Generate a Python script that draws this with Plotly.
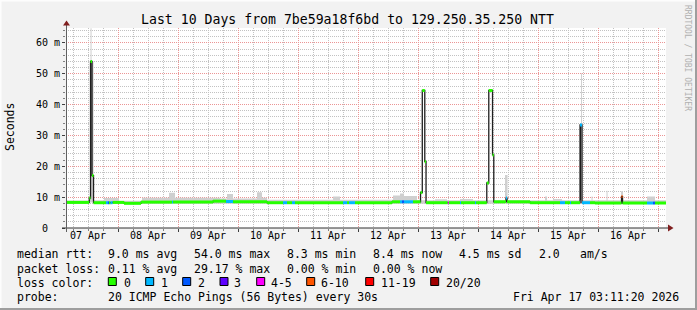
import plotly.graph_objects as go
import pandas as pd

# ---------------- data ----------------
title_text = "Last 10 Days from 7be59a18f6bd to 129.250.35.250 NTT"
t_start = "2026-04-07 03:11:20"
t_end = "2026-04-17 03:11:20"

day_lines = ["2026-04-08", "2026-04-09", "2026-04-10", "2026-04-11", "2026-04-12",
             "2026-04-13", "2026-04-14", "2026-04-15", "2026-04-16", "2026-04-17"]
day_label_pos = ["2026-04-07 12:00", "2026-04-08 12:00", "2026-04-09 12:00", "2026-04-10 12:00",
                 "2026-04-11 12:00", "2026-04-12 12:00", "2026-04-13 12:00", "2026-04-14 12:00",
                 "2026-04-15 12:00", "2026-04-16 12:00"]
day_labels = ["07 Apr", "08 Apr", "09 Apr", "10 Apr", "11 Apr",
              "12 Apr", "13 Apr", "14 Apr", "15 Apr", "16 Apr"]

y_tickvals = [0, 10, 20, 30, 40, 50, 60]
y_ticktext = ["0\u00a0\u00a0", "10 m", "20 m", "30 m", "40 m", "50 m", "60 m"]
y_max = 64.86

# median rtt (ms) step series, loss = lost pings of 20 for each step
med_time = ["2026-04-07 03:11:20", "2026-04-07 12:30", "2026-04-07 13:00", "2026-04-07 13:36",
            "2026-04-07 14:12", "2026-04-07 19:12", "2026-04-07 20:00", "2026-04-07 20:24",
            "2026-04-07 21:00", "2026-04-07 21:48", "2026-04-08 02:24", "2026-04-08 09:12",
            "2026-04-08 21:36", "2026-04-08 22:00", "2026-04-09 14:00", "2026-04-09 19:12",
            "2026-04-09 22:00", "2026-04-10 11:36", "2026-04-10 18:00", "2026-04-10 19:36",
            "2026-04-10 21:36", "2026-04-10 22:48", "2026-04-11 18:00", "2026-04-11 19:36",
            "2026-04-11 20:24", "2026-04-11 22:48", "2026-04-12 13:36", "2026-04-12 16:48",
            "2026-04-12 17:36", "2026-04-12 18:24", "2026-04-12 22:00", "2026-04-13 01:00",
            "2026-04-13 01:42", "2026-04-13 02:42", "2026-04-13 03:12", "2026-04-13 11:54",
            "2026-04-13 12:18", "2026-04-13 16:48", "2026-04-13 17:12", "2026-04-13 22:48",
            "2026-04-13 23:12", "2026-04-14 03:30", "2026-04-14 04:18", "2026-04-14 05:48",
            "2026-04-14 06:18", "2026-04-14 11:12", "2026-04-14 11:36", "2026-04-14 20:48",
            "2026-04-15 08:48", "2026-04-15 10:48", "2026-04-15 12:48", "2026-04-15 13:12",
            "2026-04-15 16:48", "2026-04-15 17:36", "2026-04-15 20:48", "2026-04-15 22:48",
            "2026-04-16 09:24", "2026-04-16 09:48", "2026-04-16 19:36", "2026-04-16 22:00",
            "2026-04-16 22:48", "2026-04-17 03:11:20"]
med_val = [8.3, 9.7, 54.0, 17.0,
           8.2, 8.2, 8.2, 8.2,
           8.2, 8.3, 8.0, 8.4,
           8.4, 8.4, 8.7, 8.6,
           8.5, 8.2, 8.2, 8.2,
           8.2, 8.2, 8.2, 8.2,
           8.2, 8.2, 8.5, 8.5,
           8.5, 8.5, 8.5, 11.5,
           44.6, 21.5, 8.2, 8.2,
           8.2, 8.2, 8.2, 8.2,
           8.2, 14.6, 44.6, 23.7,
           8.5, 9.7, 8.5, 8.2,
           8.2, 8.2, 8.2, 8.2,
           33.4, 8.2, 8.2, 8.1,
           10.2, 8.1, 8.1, 8.1,
           8.1, 8.1]
med_loss = [0, 0, 0, 0,
            0, 1, 2, 0,
            1, 0, 0, 0,
            1, 0, 0, 1,
            0, 0, 1, 0,
            1, 0, 1, 0,
            1, 0, 0, 1,
            2, 1, 0, 0,
            0, 0, 0, 4,
            0, 1, 0, 1,
            0, 0, 0, 0,
            0, 1, 0, 0,
            1, 0, 1, 0,
            1, 1, 0, 0,
            6, 0, 1, 2,
            0, 0]

# light smoke (spread of the 20 pings), step series
smoke_time = ["2026-04-07 03:11:20", "2026-04-07 12:00", "2026-04-07 12:30", "2026-04-07 13:00",
              "2026-04-07 13:24", "2026-04-07 14:12", "2026-04-07 18:24", "2026-04-08 00:24",
              "2026-04-08 09:36", "2026-04-08 20:24", "2026-04-08 22:48", "2026-04-09 16:48",
              "2026-04-09 19:36", "2026-04-09 22:00", "2026-04-10 07:36", "2026-04-10 09:36",
              "2026-04-10 11:36", "2026-04-11 14:00", "2026-04-11 16:48", "2026-04-12 14:00",
              "2026-04-12 16:48", "2026-04-12 18:24", "2026-04-12 23:36", "2026-04-13 06:48",
              "2026-04-13 11:36", "2026-04-13 16:48", "2026-04-13 22:00", "2026-04-14 10:48",
              "2026-04-14 11:48", "2026-04-15 02:48", "2026-04-15 03:36", "2026-04-15 06:00",
              "2026-04-15 09:36", "2026-04-15 17:12", "2026-04-15 17:36", "2026-04-15 21:24",
              "2026-04-15 21:48", "2026-04-16 03:24", "2026-04-16 03:48", "2026-04-16 09:12",
              "2026-04-16 10:00", "2026-04-16 19:36", "2026-04-16 22:48", "2026-04-17 03:11:20"]
smoke_lo = [7.9, 7.9, 8.3, 8.3,
            8.3, 7.9, 7.9, 7.9,
            7.9, 7.9, 7.9, 7.9,
            7.9, 7.9, 7.9, 7.9,
            7.9, 7.9, 7.9, 7.9,
            7.9, 7.9, 7.9, 7.9,
            7.9, 7.9, 7.9, 8.3,
            7.9, 7.9, 7.9, 7.9,
            7.9, 7.9, 7.9, 7.9,
            7.9, 7.9, 7.9, 7.9,
            7.9, 7.9, 7.9, 7.9]
smoke_hi = [8.9, 9.0, 10.0, 64.8,
            54.0, 9.0, 9.7, 8.8,
            9.8, 11.4, 9.8, 9.6,
            11.0, 9.6, 11.6, 9.8,
            9.2, 10.2, 9.2, 10.5,
            11.2, 10.4, 9.0, 9.3,
            9.0, 9.4, 9.0, 17.2,
            9.0, 10.2, 9.0, 9.4,
            9.0, 50.2, 9.0, 10.2,
            9.0, 12.1, 9.0, 11.9,
            9.0, 10.2, 9.0, 9.0]

# dense (dark) smoke blocks
dark_start = ["2026-04-07 13:00", "2026-04-14 10:48", "2026-04-15 16:48", "2026-04-16 09:12"]
dark_end = ["2026-04-07 13:36", "2026-04-14 11:36", "2026-04-15 17:36", "2026-04-16 09:48"]
dark_lo = [8.3, 8.4, 8.2, 8.2]
dark_hi = [54.0, 12.3, 33.4, 10.7]

loss_labels = ["0", "1", "2", "3", "4-5", "6-10", "11-19", "20/20"]
loss_colors = ["#26ff00", "#00b8ff", "#0059ff", "#5e00ff", "#ff00ff", "#ff5500", "#ff0000", "#a10000"]

stat_rtt = ["median rtt:", "9.0 ms avg", "54.0 ms max", "8.3 ms min", "8.4 ms now", "4.5 ms sd", "2.0", "am/s"]
stat_loss = ["packet loss:", "0.11 % avg", "29.17 % max", "0.00 % min", "0.00 % now"]
probe_text = ["probe:", "20 ICMP Echo Pings (56 Bytes) every 30s"]
stamp_text = "Fri Apr 17 03:11:20 2026"
watermark = "RRDTOOL / TOBI OETIKER"

# ---------------- layout geometry (pixels) ----------------
W, H = 697, 310
ML, MT, PW, PH = 66, 28, 600, 200
FONT = "DejaVu Sans Mono"


def PX(x):
    return (x - ML) / PW


def PY(y):
    return (MT + PH - y) / PH


def loss_bin(n):
    if n <= 3:
        return n
    if n <= 5:
        return 4
    if n <= 10:
        return 5
    if n <= 19:
        return 6
    return 7


fig = go.Figure()

# light smoke
fig.add_trace(go.Scatter(x=smoke_time, y=smoke_lo, mode="lines", line=dict(width=0, shape="hv"),
                         hoverinfo="skip", showlegend=False))
fig.add_trace(go.Scatter(x=smoke_time, y=smoke_hi, mode="lines", line=dict(width=0, shape="hv"),
                         fill="tonexty", fillcolor="#cfcfcf", hoverinfo="skip", showlegend=False))

# dark smoke blocks
ds = pd.to_datetime(dark_start)
de = pd.to_datetime(dark_end)
centers = ds + (de - ds) / 2
widths = [(e - s).total_seconds() * 1000 for s, e in zip(ds, de)]
fig.add_trace(go.Bar(x=centers, y=[h - l for h, l in zip(dark_hi, dark_lo)], base=dark_lo,
                     width=widths, marker=dict(color="#1e1e1e", line=dict(width=0)),
                     hoverinfo="skip", showlegend=False))

# median line (dark), transitions visible
fig.add_trace(go.Scatter(x=med_time, y=med_val, mode="lines",
                         line=dict(color="#202020", width=1.3, shape="hv"),
                         hoverinfo="skip", showlegend=False))

# loss-coloured median segments
segs = {i: ([], []) for i in range(len(loss_colors))}
for i in range(len(med_time) - 1):
    b = loss_bin(med_loss[i])
    segs[b][0].extend([med_time[i], med_time[i + 1], None])
    segs[b][1].extend([med_val[i], med_val[i], None])
for b, (xs, ys) in segs.items():
    if xs:
        fig.add_trace(go.Scatter(x=xs, y=ys, mode="lines",
                                 line=dict(color=loss_colors[b], width=3),
                                 hoverinfo="skip", showlegend=False))

# invisible trace to carry the label axis
fig.add_trace(go.Scatter(x=[t_start, t_end], y=[0, 0], xaxis="x2", mode="markers",
                         marker=dict(opacity=0), hoverinfo="skip", showlegend=False))

minor_grid = "#c2c2c2"
major_grid = "#eb9595"

fig.update_layout(
    width=W, height=H, autosize=False,
    margin=dict(l=ML, r=W - ML - PW, t=MT, b=H - MT - PH, pad=0),
    paper_bgcolor="#f2f2f2", plot_bgcolor="#ffffff",
    barmode="overlay", bargap=0,
    font=dict(family=FONT, size=10, color="#000000"),
    xaxis=dict(type="date", range=[t_start, t_end], tickmode="array", tickvals=day_lines,
               showticklabels=False, showgrid=True, gridcolor=major_grid, griddash="1px,1px",
               gridwidth=1, ticks="outside", ticklen=3, tickcolor="#404040", zeroline=False,
               showline=False,
               minor=dict(tickmode="linear", tick0="2026-04-07", dtick=6 * 3600 * 1000,
                          showgrid=True, gridcolor=minor_grid, griddash="1px,1px", gridwidth=1,
                          ticks="outside", ticklen=2, tickcolor="#808080")),
    xaxis2=dict(type="date", overlaying="x", matches="x", anchor="y", side="bottom",
                range=[t_start, t_end], tickmode="array", tickvals=day_label_pos,
                ticktext=day_labels, showgrid=False, ticks="", zeroline=False, showline=False,
                tickfont=dict(family=FONT, size=10, color="#000000")),
    yaxis=dict(range=[0, y_max], tickmode="array", tickvals=y_tickvals, ticktext=y_ticktext,
               showgrid=True, gridcolor=major_grid, griddash="1px,1px", gridwidth=1,
               ticks="outside", ticklen=3, tickcolor="#404040", zeroline=False, showline=False,
               tickfont=dict(family=FONT, size=10, color="#000000"),
               minor=dict(tickmode="linear", tick0=0, dtick=2, showgrid=True,
                          gridcolor=minor_grid, griddash="1px,1px", gridwidth=1,
                          ticks="outside", ticklen=2, tickcolor="#808080")),
)

shapes = []
# frame (3D border)
shapes.append(dict(type="line", xref="paper", yref="paper", x0=PX(0), x1=PX(W), y0=PY(0.5), y1=PY(0.5),
                   line=dict(color="#fdfdfd", width=2)))
shapes.append(dict(type="line", xref="paper", yref="paper", x0=PX(0.5), x1=PX(0.5), y0=PY(0), y1=PY(H),
                   line=dict(color="#fdfdfd", width=2)))
shapes.append(dict(type="line", xref="paper", yref="paper", x0=PX(0), x1=PX(W), y0=PY(H - 1), y1=PY(H - 1),
                   line=dict(color="#9e9e9e", width=2)))
shapes.append(dict(type="line", xref="paper", yref="paper", x0=PX(W - 1), x1=PX(W - 1), y0=PY(0), y1=PY(H),
                   line=dict(color="#9e9e9e", width=2)))
# axes with arrows
shapes.append(dict(type="line", xref="paper", yref="paper", x0=PX(62), x1=PX(670), y0=PY(228), y1=PY(228),
                   line=dict(color="#303030", width=1)))
shapes.append(dict(type="line", xref="paper", yref="paper", x0=PX(66.5), x1=PX(66.5), y0=PY(232), y1=PY(24),
                   line=dict(color="#606060", width=1)))
shapes.append(dict(type="path", xref="paper", yref="paper",
                   path="M %f %f L %f %f L %f %f Z" % (PX(668), PY(224.5), PX(673.5), PY(228), PX(668), PY(231.5)),
                   fillcolor="#801f1f", line=dict(width=0)))
shapes.append(dict(type="path", xref="paper", yref="paper",
                   path="M %f %f L %f %f L %f %f Z" % (PX(63), PY(25.5), PX(66.5), PY(20.5), PX(70), PY(25.5)),
                   fillcolor="#801f1f", line=dict(width=0)))

annotations = []


def text(s, x, y, xanchor="left", size=11.5, color="#000000", angle=0):
    annotations.append(dict(text=s, x=PX(x), y=PY(y), xref="paper", yref="paper",
                            xanchor=xanchor, yanchor="middle", showarrow=False, textangle=angle,
                            borderpad=0, font=dict(family=FONT, size=size, color=color)))


text(title_text, 347.5, 20, xanchor="center", size=13.2)
text("Seconds", 10, 127, xanchor="center", size=11.5, angle=-90)
text(watermark, 688, 58, xanchor="center", size=8, color="#b0b0b0", angle=90)

# legend line 1
rtt_x = [16, 107.3, 193.3, 286, 372.3, 458.3, 537.7, 579.3]
for s, x in zip(stat_rtt, rtt_x):
    text(s, x, 254)
loss_x = [16, 107.3, 192.7, 286, 372.3]
for s, x in zip(stat_loss, loss_x):
    text(s, x, 268.5)
text("loss color:", 16, 282.5)
box_x = [108.3, 145.7, 182.7, 220, 256.7, 306.7, 365.7, 430.7]
lab_x = [123.3, 160, 196.7, 233.3, 270, 320, 380, 445]
for lbl, col, bx, lx in zip(loss_labels, loss_colors, box_x, lab_x):
    shapes.append(dict(type="rect", xref="paper", yref="paper", x0=PX(bx), x1=PX(bx + 8),
                       y0=PY(277.5), y1=PY(285.5), fillcolor=col, line=dict(color="#000000", width=1)))
    text(lbl, lx, 282.5)
text(probe_text[0], 16, 297)
text(probe_text[1], 107.3, 297)
text(stamp_text, 680, 297, xanchor="right")

fig.update_layout(shapes=shapes, annotations=annotations)
fig.write_html("out.html")
